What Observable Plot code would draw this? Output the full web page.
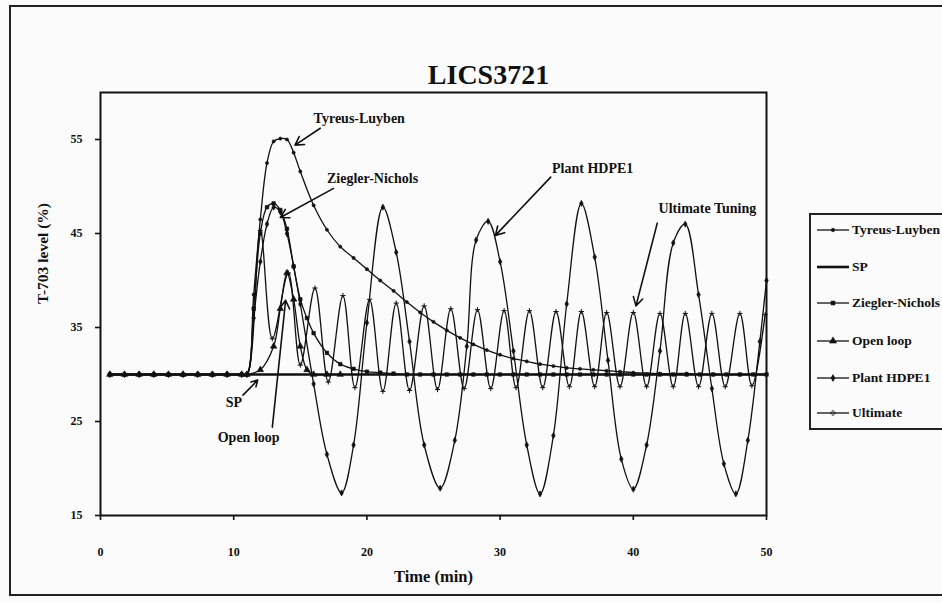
<!DOCTYPE html>
<html>
<head>
<meta charset="utf-8">
<script src="https://cdn.jsdelivr.net/npm/d3@7"></script>
<script src="https://cdn.jsdelivr.net/npm/@observablehq/plot@0.6"></script>
<style>
  html, body { margin: 0; padding: 0; background: #fbfbfb; overflow: hidden; }
  #wrap { position: relative; width: 942px; height: 603px; background: #fbfbfb; }
  #border { position: absolute; left: 9px; top: 5px; width: 960px; height: 591px;
            border: 2px solid #222; box-sizing: border-box; }
  #chart { position: absolute; left: 0; top: 0; }
  #legend { position: absolute; left: 809px; top: 213px; width: 160px; height: 217px;
            border: 2px solid #222; box-sizing: border-box;
            font-family: "Liberation Serif", "Times New Roman", serif; font-weight: bold;
            font-size: 13.5px; color: #111; }
  .item { position: absolute; left: 6px; height: 14px; display: flex; align-items: center; white-space: nowrap; }
  .item svg { margin-right: 3px; }
</style>
</head>
<body>
<div id="wrap">
  <div id="border"></div>
  <div id="chart"></div>
  <div id="legend"></div>
</div>
<script>
// ---------------- data ----------------
const xTicks = [0, 10, 20, 30, 40, 50];
const yTicks = [15, 25, 35, 45, 55];

const spTime = [0.7, 50];
const spLevel = [30, 30];

const tlTime = [0.7, 1.8, 2.9, 4.0, 5.1, 6.2, 7.3, 8.4, 9.5, 10.6, 11.0, 11.5, 12.0, 12.5, 13.0, 13.5, 14.0, 14.5, 15.0,
  16, 17, 18, 19, 20, 21, 22, 23, 24, 25, 26, 27, 28, 29, 30, 31, 32, 33, 34, 35, 36, 37, 38, 39, 40, 42, 44, 46, 48, 50];
const tlLevel = [30, 30, 30, 30, 30, 30, 30, 30, 30, 30, 30.0, 38.5, 46.5, 52.5, 54.8, 55.1, 55.0, 53.6, 51.6,
  48.0, 45.4, 43.6, 42.4, 41.2, 40.0, 38.9, 37.7, 36.6, 35.6, 34.7, 33.9, 33.2, 32.6, 32.1, 31.7, 31.4, 31.1, 30.9, 30.7,
  30.6, 30.5, 30.4, 30.3, 30.2, 30.1, 30.1, 30.0, 30.0, 30.0];

const znTime = [0.7, 1.8, 2.9, 4.0, 5.1, 6.2, 7.3, 8.4, 9.5, 10.6, 11.0, 11.5, 12.0, 12.5, 13.0, 13.5, 14.0, 14.5, 15.0, 15.5,
  16, 17, 18, 19, 20, 21, 22, 23, 24, 25, 26, 27, 28, 29, 30, 31, 32, 33, 34, 35, 36, 37, 38, 39, 40, 41, 42, 43, 44, 45, 46, 47, 48, 49, 50];
const znLevel = [30, 30, 30, 30, 30, 30, 30, 30, 30, 30, 30.0, 37.0, 45.0, 47.8, 48.2, 47.5, 45.5, 41.5, 38.0, 36.0,
  34.4, 32.3, 31.1, 30.6, 30.3, 30.2, 30.1, 30.0, 30, 30, 30, 30, 30, 30, 30, 30, 30, 30, 30, 30, 30, 30, 30, 30, 30,
  30, 30, 30, 30, 30, 30, 30, 30, 30, 30];

const olTime = [0.7, 1.8, 2.9, 4.0, 5.1, 6.2, 7.3, 8.4, 9.5, 10.6, 11.0, 12.0, 13.0, 13.5, 14.0, 14.5, 15.0, 15.5, 16.0, 17.0, 18.0];
const olLevel = [30, 30, 30, 30, 30, 30, 30, 30, 30, 30, 30, 30.5, 33.0, 37.0, 40.8, 38.0, 33.0, 30.5, 30.0, 30.0, 30.0];

const hdTime = [0.7, 1.8, 2.9, 4.0, 5.1, 6.2, 7.3, 8.4, 9.5, 10.6, 11.0, 11.5, 12.0, 12.5, 13.0, 13.5, 14.0, 14.5, 15.0,
  16.0, 17.0, 18.1, 19.0, 20.0, 21.2, 22.2, 23.2, 24.3, 25.5, 26.6, 27.5, 28.2, 29.1, 30.0, 31.0, 32.0, 33.0, 34.0, 35.0,
  36.1, 37.1, 38.1, 39.1, 40.0, 41.0, 42.0, 43.0, 43.9, 44.9, 45.9, 46.8, 47.7, 48.6, 49.5, 50.0];
const hdLevel = [30, 30, 30, 30, 30, 30, 30, 30, 30, 30, 30.0, 36.0, 42.0, 46.0, 47.8, 47.3, 45.0, 41.5, 37.5,
  29.0, 21.5, 17.4, 22.5, 35.5, 47.8, 43.0, 33.5, 22.5, 17.9, 23.0, 33.0, 44.3, 46.3, 42.0, 32.5, 22.5, 17.3, 23.5, 37.5,
  48.2, 42.5, 31.5, 21.0, 17.8, 22.5, 32.5, 44.0, 46.0, 38.5, 28.5, 20.5, 17.3, 23.0, 33.5, 40.0];

const ulTime = [0.7, 1.8, 2.9, 4.0, 5.1, 6.2, 7.3, 8.4, 9.5, 10.6, 11.0, 12.0, 12.9, 14.1, 15.0, 16.1, 17.1, 18.2, 19.1,
  20.2, 21.2, 22.2, 23.2, 24.3, 25.3, 26.3, 27.3, 28.3, 29.3, 30.3, 31.2, 32.2, 33.2, 34.2, 35.2, 36.1, 37.1, 38.0,
  39.0, 40.0, 41.0, 42.0, 43.0, 43.9, 44.9, 45.9, 46.9, 48.0, 48.9, 49.9];
const ulLevel = [30, 30, 30, 30, 30, 30, 30, 30, 30, 30, 30.0, 45.3, 33.8, 40.8, 31.0, 39.2, 29.2, 38.4, 28.6,
  38.0, 28.2, 37.6, 28.3, 37.3, 28.4, 37.0, 28.5, 36.9, 28.5, 36.8, 28.6, 36.8, 28.6, 36.7, 28.7, 36.7, 28.7, 36.6,
  28.7, 36.6, 28.7, 36.5, 28.7, 36.5, 28.7, 36.5, 28.7, 36.5, 28.8, 36.4];

const seriesNames = ["Tyreus-Luyben", "SP", "Ziegler-Nichols", "Open loop", "Plant HDPE1", "Ultimate"];
const seriesSymbols = ["circle", null, "square", "triangle", "diamond", "plus"];
const seriesMarkSize = [1.6, 0, 2.0, 2.4, 1.9, 1.8];

// annotation labels (text, anchor point in data units) and arrows
const noteText = ["Tyreus-Luyben", "Ziegler-Nichols", "Plant HDPE1", "Ultimate Tuning", "SP", "Open loop"];
const noteX = [16.0, 17.0, 33.9, 41.9, 9.4, 8.8];
const noteY = [57.2, 50.9, 51.9, 47.7, 27.0, 23.3];
const arrowX1 = [16.5, 17.5, 33.8, 41.8, 10.7, 12.9];
const arrowY1 = [56.2, 49.8, 51.0, 46.1, 27.8, 24.4];
const arrowX2 = [14.6, 13.5, 29.65, 40.2, 11.8, 13.9];
const arrowY2 = [54.4, 46.7, 44.8, 37.3, 29.4, 37.9];

const title = "LICS3721";
const xLabel = "Time (min)";
const yLabel = "T-703 level (%)";

// ---------------- build tables ----------------
const seriesTimes = [tlTime, spTime, znTime, olTime, hdTime, ulTime];
const seriesLevels = [tlLevel, spLevel, znLevel, olLevel, hdLevel, ulLevel];
const rows = [];
seriesNames.forEach((name, i) => {
  seriesTimes[i].forEach((t, j) => rows.push({series: name, idx: i, time: t, level: seriesLevels[i][j]}));
});
const notes = noteText.map((text, i) => ({text, x: noteX[i], y: noteY[i], x1: arrowX1[i], y1: arrowY1[i], x2: arrowX2[i], y2: arrowY2[i]}));

const serif = "'Liberation Serif', 'Times New Roman', serif";
const lineRows = rows.filter(d => d.series !== "SP");
const markMarks = seriesNames.map((name, i) => seriesSymbols[i] ? Plot.dot(rows.filter(d => d.idx === i), {
  x: "time", y: "level", symbol: () => seriesSymbols[i], r: seriesMarkSize[i],
  fill: seriesSymbols[i] === "plus" ? "none" : "#111", stroke: "#111", strokeWidth: seriesSymbols[i] === "plus" ? 1 : 0.6
}) : null).filter(Boolean);

const chart = Plot.plot({
  width: 942, height: 603,
  marginLeft: 100, marginRight: 176, marginTop: 92, marginBottom: 88,
  style: {background: "transparent", fontFamily: serif, fontWeight: "bold", color: "#111", overflow: "visible"},
  x: {domain: [0, 50]},
  y: {domain: [15, 60]},
  marks: [
    Plot.frame({stroke: "#111", strokeWidth: 2}),
    Plot.axisX({ticks: xTicks, tickSize: 5, tickPadding: 27, label: null, fontSize: 12, fontWeight: "bold", strokeWidth: 1.6}),
    Plot.axisY({ticks: yTicks, tickSize: 5, tickPadding: 13, label: null, fontSize: 12, fontWeight: "bold", strokeWidth: 1.6}),
    Plot.text([xLabel], {frameAnchor: "bottom", dy: 66, fontSize: 16.5, fontWeight: "bold"}),
    Plot.text([yLabel], {frameAnchor: "left", dx: -57, rotate: -90, fontSize: 15.5, fontWeight: "bold"}),
    Plot.text([title], {frameAnchor: "top", dx: 55, dy: -28, fontSize: 28, fontWeight: "bold", fontFamily: serif}),
    Plot.line(rows.filter(d => d.series === "SP"), {x: "time", y: "level", stroke: "#111", strokeWidth: 2.6}),
    Plot.line(lineRows, {x: "time", y: "level", z: "series", stroke: "#111", strokeWidth: 1.3, curve: "catmull-rom"}),
    ...markMarks,
    Plot.arrow(notes, {x1: "x1", y1: "y1", x2: "x2", y2: "y2", stroke: "#111", strokeWidth: 1.6, headLength: 9}),
    Plot.text(notes, {x: "x", y: "y", text: "text", textAnchor: "start", fontSize: 14, fontWeight: "bold"})
  ]
});
document.getElementById("chart").appendChild(chart);

// ---------------- legend ----------------
const legend = document.getElementById("legend");
const legendTop = [15, 52, 88, 126, 163, 198];
seriesNames.forEach((name, i) => {
  const item = document.createElement("div");
  item.className = "item";
  item.style.top = (legendTop[i] - 7) + "px";
  const svg = d3.create("svg").attr("width", 32).attr("height", 10);
  svg.append("line").attr("x1", 0).attr("x2", 32).attr("y1", 5).attr("y2", 5)
    .attr("stroke", "#111").attr("stroke-width", i === 1 ? 2.6 : 1.3);
  if (seriesSymbols[i]) {
    const sym = {circle: d3.symbolCircle, square: d3.symbolSquare, triangle: d3.symbolTriangle, diamond: d3.symbolDiamond, plus: d3.symbolCross}[seriesSymbols[i]];
    svg.append("path").attr("transform", "translate(16,5)")
      .attr("d", d3.symbol(sym, Math.PI * seriesMarkSize[i] * seriesMarkSize[i] * 1.2)())
      .attr("fill", seriesSymbols[i] === "plus" ? "none" : "#111").attr("stroke", "#111").attr("stroke-width", 0.6);
  }
  item.appendChild(svg.node());
  const label = document.createElement("span");
  label.textContent = name;
  item.appendChild(label);
  legend.appendChild(item);
});
</script>
</body>
</html>
